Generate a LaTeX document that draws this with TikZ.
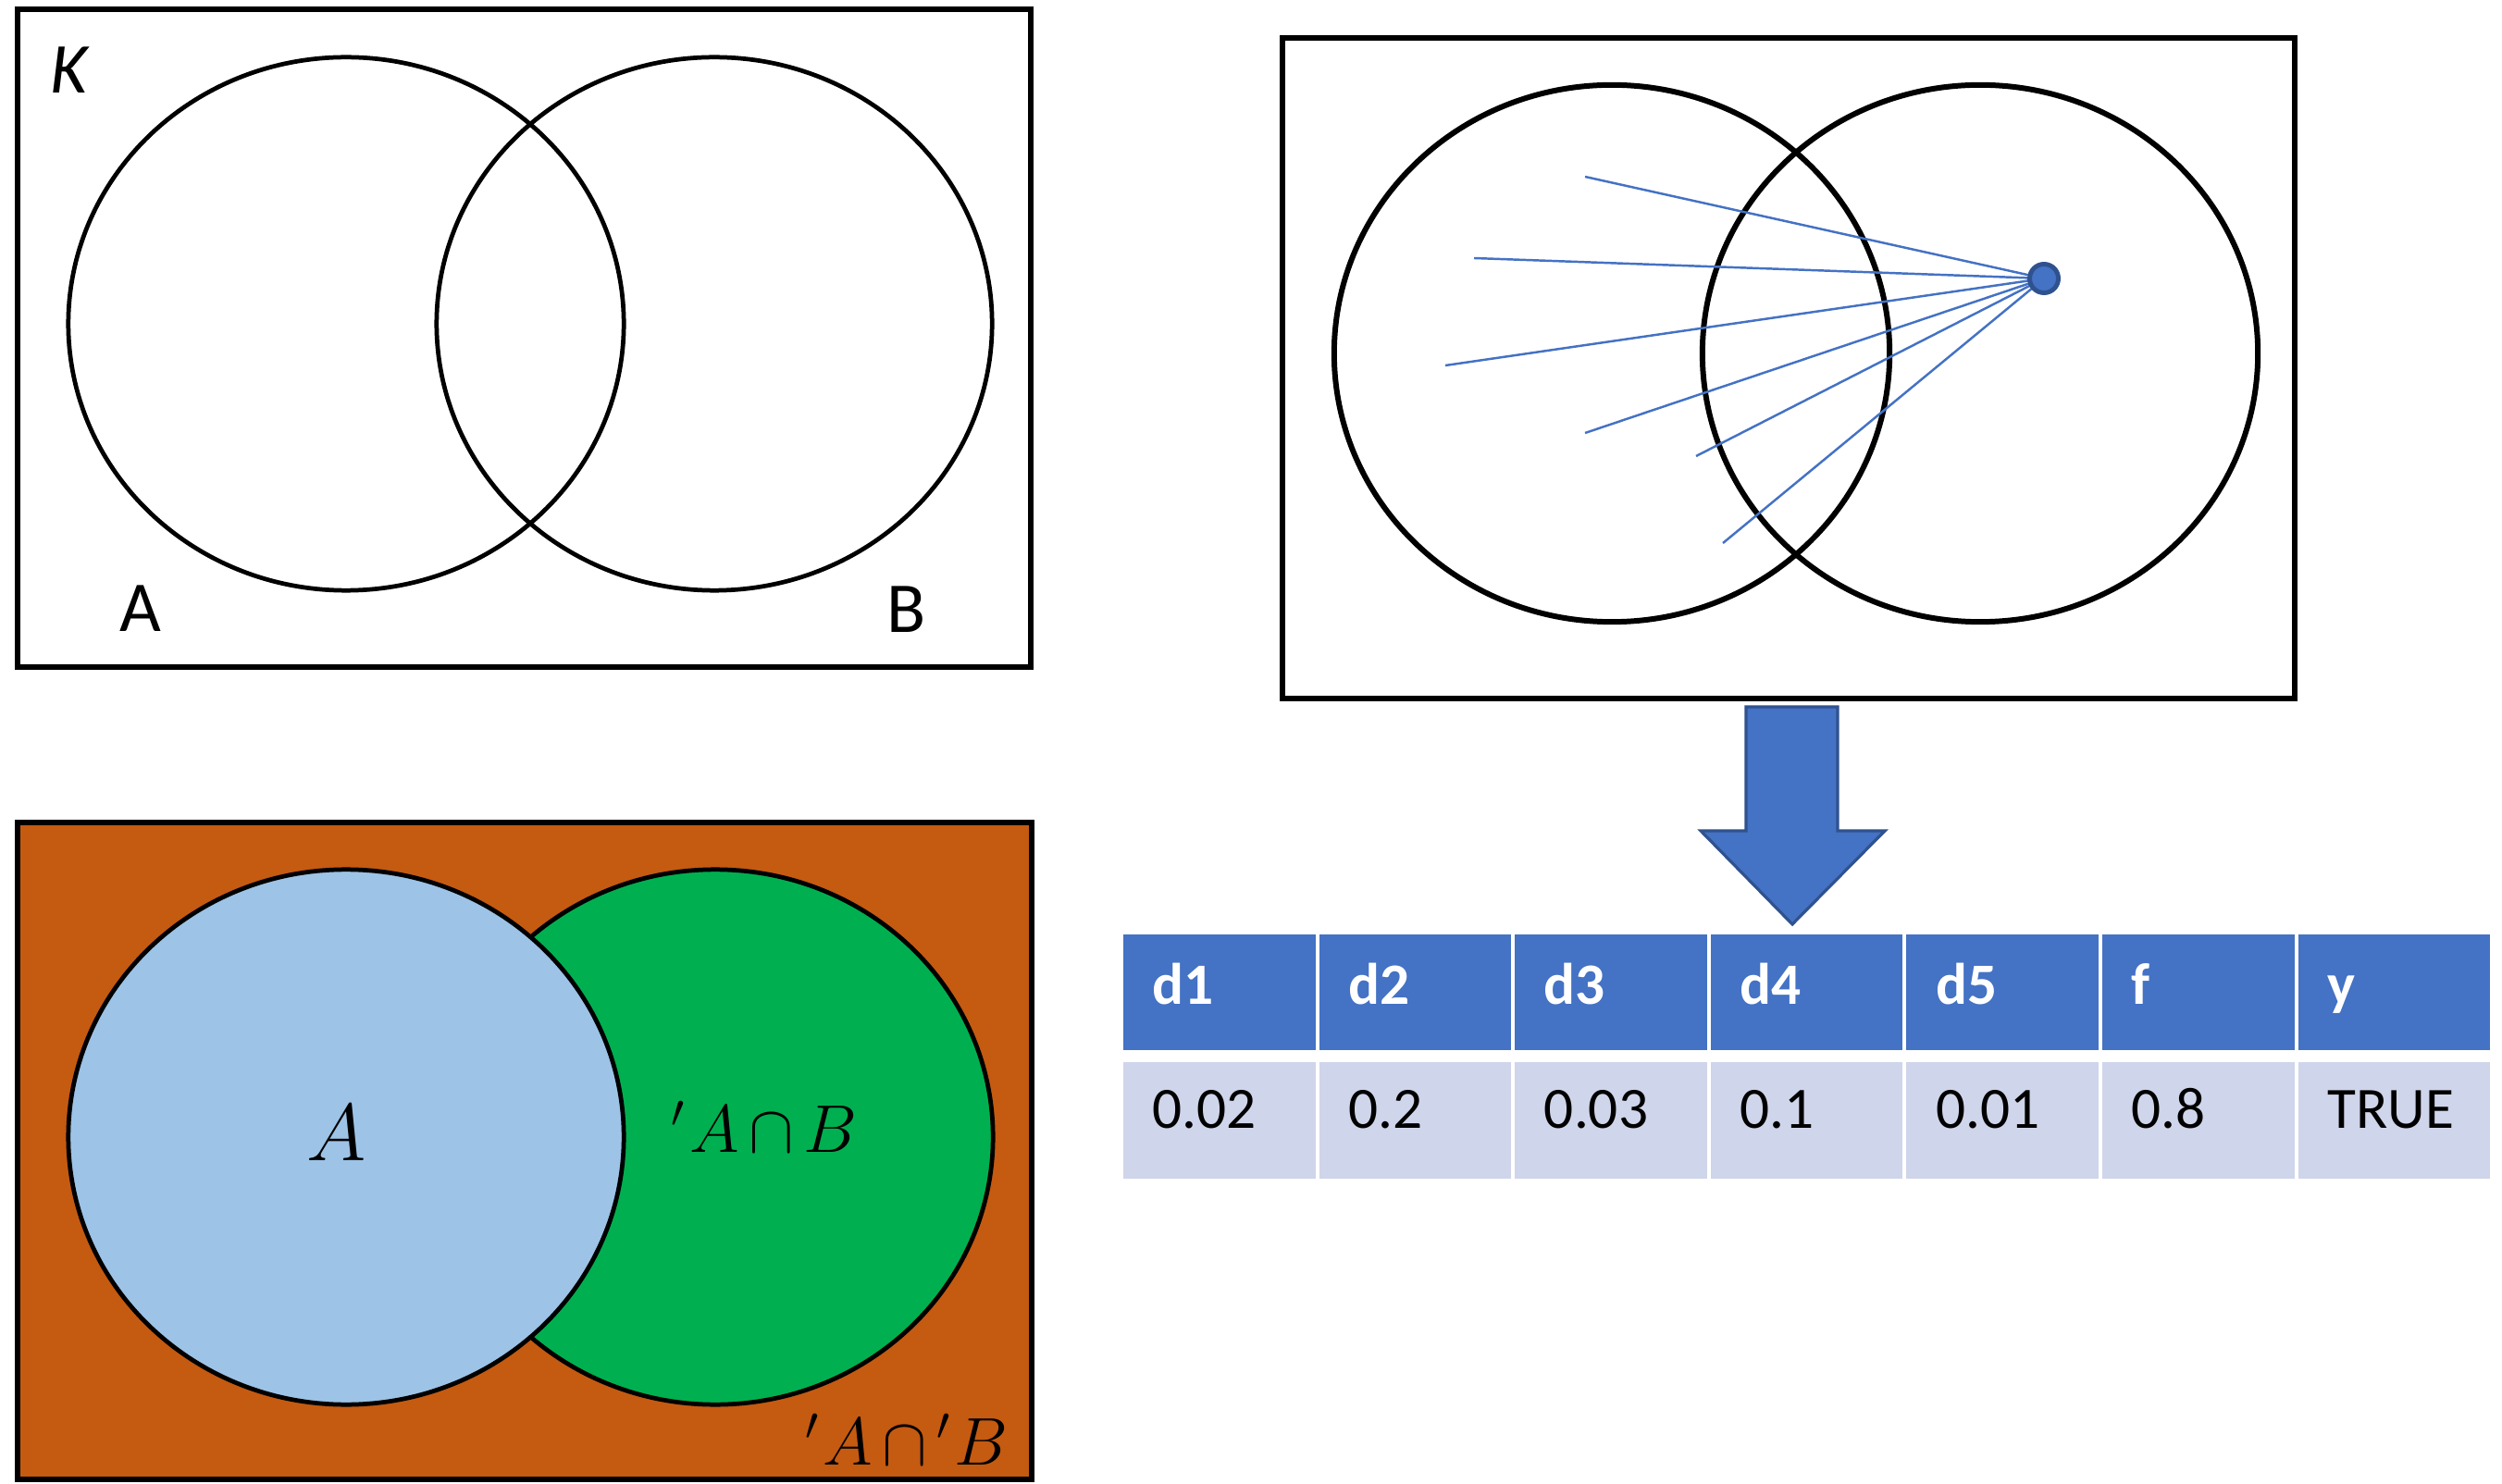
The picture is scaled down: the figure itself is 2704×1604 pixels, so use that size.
\documentclass[tikz,border=0pt]{standalone}
\usepackage{fontspec}
\setmainfont{Carlito}
\definecolor{accent}{HTML}{4472C4}
\definecolor{accentdark}{HTML}{2F528F}
\definecolor{rust}{HTML}{C55A11}
\definecolor{lblue}{HTML}{9DC3E6}
\definecolor{vgreen}{HTML}{00B050}
\definecolor{rowc}{HTML}{CFD5EA}
\newcommand{\pr}{{}^{\prime}\mkern1mu}
\newcommand{\capt}{\mkern-1.5mu\cap\mkern-1.5mu}
\begin{document}
\begin{tikzpicture}[x=0.01cm,y=-0.01cm,
  frame/.style={draw=black,line width=1.5pt},
  venn/.style={draw=black,line width=1.35pt},
  vennthick/.style={draw=black,line width=1.7pt},
  ray/.style={draw=accent,line width=0.7pt},
  lbl/.style={font=\fontsize{22}{26}\selectfont,anchor=base,inner sep=0},
  mlbl/.style={font=\fontsize{22}{26}\selectfont,anchor=base,inner sep=0},
  hcell/.style={fill=accent,minimum width=2.076cm,minimum height=1.25cm,inner sep=0},
  dcell/.style={fill=rowc,minimum width=2.076cm,minimum height=1.25cm,inner sep=0},
  htext/.style={font=\fontsize{18}{22}\selectfont\bfseries,text=white,anchor=base west,inner sep=0},
  dtext/.style={font=\fontsize{18}{22}\selectfont,text=black,anchor=base west,inner sep=0}]
\useasboundingbox (0,0) rectangle (2704,1604);

% ---------- Panel 1 ----------
\draw[frame] (19,10) rectangle (1114,721);
\draw[venn] (374,350) ellipse [x radius=3cm,y radius=2.88cm];
\draw[venn] (772,350) ellipse [x radius=3cm,y radius=2.88cm];
\node[lbl,font=\fontsize{22}{26}\selectfont\itshape] (K) at (75,101) {K};
\node[lbl] (labA) at (152,683) {A};
\node[lbl] (labB) at (980,684) {B};

% ---------- Panel 2 ----------
\draw[frame,line width=1.7pt] (1386,41) rectangle (2480,755);
\draw[vennthick] (1742,382) ellipse [x radius=3cm,y radius=2.9cm];
\draw[vennthick] (2140,382) ellipse [x radius=3cm,y radius=2.9cm];
\coordinate (dotc) at (2209,301);
\coordinate (r1) at (1713,191);
\coordinate (r2) at (1593,279);
\coordinate (r3) at (1562,395);
\coordinate (r4) at (1713,468);
\coordinate (r5) at (1833,493);
\coordinate (r6) at (1862,587);
\foreach \r in {r1,r2,r3,r4,r5,r6} \draw[ray] (dotc) -- (\r);
\node[circle,fill=accent,draw=accentdark,line width=1.4pt,minimum size=0.31cm,inner sep=0] (dot) at (dotc) {};

% ---------- Block arrow ----------
\draw[fill=accent,draw=accentdark,line width=0.9pt,line join=miter]
  (1887,764) -- (1986,764) -- (1986,898) -- (2037,898) -- (1937,999)
  -- (1838,898) -- (1887,898) -- cycle;

% ---------- Table ----------
\foreach \t [count=\i from 0] in {d1,d2,d3,d4,d5,f,y} {
  \node[hcell] (h\i) at ({1212+\i*211.6+105.8},1072.5) {};
  \node[htext] (ht\i) at ({1212+\i*211.6+33},1085) {\t};
}
\foreach \t [count=\i from 0] in {0.02,0.2,0.03,0.1,0.01,0.8,TRUE} {
  \node[dcell] (c\i) at ({1212+\i*211.6+105.8},1211) {};
  \node[dtext] (ct\i) at ({1212+\i*211.6+33},1219) {\t};
}

% ---------- Panel 3 ----------
\fill[rust] (19,889) rectangle (1115,1599);
\draw[venn,fill=vgreen] (773,1229) ellipse [x radius=3cm,y radius=2.89cm];
\draw[venn,fill=lblue] (374,1229) ellipse [x radius=3cm,y radius=2.89cm];
\draw[frame,line width=1.7pt] (19,889) rectangle (1115,1599);
\node[mlbl,font=\fontsize{23}{27}\selectfont] (mA) at (364,1254) {$A$};
\node[mlbl] (mAB) at (826,1245) {$\pr A\capt B$};
\node[mlbl] (mAnB) at (980,1583) {$\pr A\capt\pr B$};
\end{tikzpicture}
\end{document}
